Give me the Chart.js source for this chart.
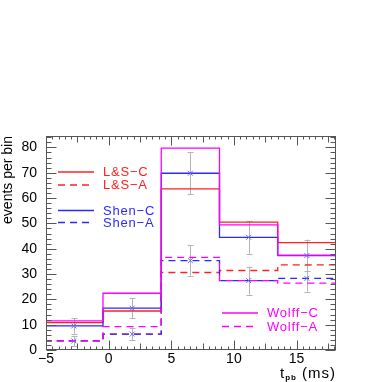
<!DOCTYPE html>
<html>
<head>
<meta charset="utf-8">
<script src="https://cdn.jsdelivr.net/npm/chart.js@4/dist/chart.umd.min.js"></script>
<style>
html,body{margin:0;padding:0;background:#fff;}
canvas{display:block;}
</style>
</head>
<body>
<canvas id="c" width="382" height="382"></canvas>
<script>
// ---- data ----
const binEdges = [-5.1, -0.45, 4.2, 8.85, 13.5, 18.15];
const lsC    = [10.8, 15.4, 63.6, 50.5, 42.4];
const lsA    = [3.6, 6.3, 30.6, 31.4, 33.6];
const shenC  = [9.5, 16.5, 69.8, 44.5, 37.3];
const shenA  = [3.6, 6.3, 35.3, 27.4, 28.3];
const wolffC = [11.5, 22.4, 79.7, 49.4, 37.5];
const wolffA = [3.6, 9.2, 36.6, 27.4, 26.4];
const shenCErr = [3.0, 4.0, 8.3, 6.5, 6.3];
const shenAErr = [2.0, 2.5, 6.0, 5.5, 5.3];
const xTickLabels = [-5, 0, 5, 10, 15];
const yTickLabels = [0, 10, 20, 30, 40, 50, 60, 70, 80];
const seriesNames = ['L&S\u2212C', 'L&S\u2212A', 'Shen\u2212C', 'Shen\u2212A', 'Wolff\u2212C', 'Wolff\u2212A'];
const xTitleMain = 't', xTitleSub = 'pb', xTitleUnit = ' (ms)';
const yTitle = 'events per bin';

const RED = '#ff2020', BLUE = '#2a2aff', MAG = '#ff00ff';
const FONT = '"Liberation Sans", Arial, Helvetica, sans-serif';
const DASH = [7, 5];

function stepPoints(vals) {
  return binEdges.map((e, i) => ({ x: e, y: vals[Math.min(i, vals.length - 1)] }));
}
const centers = binEdges.slice(0, -1).map((e, i) => (e + binEdges[i + 1]) / 2);

function histDS(label, vals, color, dashed, order) {
  return {
    label, data: stepPoints(vals), borderColor: color, borderWidth: 1.3,
    borderDash: dashed ? DASH : [], stepped: 'before', pointRadius: 0,
    fill: false, order
  };
}

const datasets = [
  histDS(seriesNames[0], lsC, RED, false, 5),
  histDS(seriesNames[1], lsA, RED, true, 5),
  histDS(seriesNames[2], shenC, BLUE, false, 4),
  histDS(seriesNames[3], shenA, BLUE, true, 4),
  histDS(seriesNames[4], wolffC, MAG, false, 3),
  histDS(seriesNames[5], wolffA, MAG, true, 3),
  {
    label: 'Shen markers', type: 'scatter',
    data: centers.map((c, i) => ({ x: c, y: shenC[i] })).concat(centers.map((c, i) => ({ x: c, y: shenA[i] }))),
    pointStyle: 'crossRot', pointRadius: 3.5, borderColor: '#6a6aff', borderWidth: 1,
    backgroundColor: '#6a6aff', showLine: false, order: 0
  }
];

const errorBars = {
  id: 'errorBars',
  beforeDatasetsDraw(chart) {
    const { ctx, scales: { x, y } } = chart;
    ctx.save();
    ctx.strokeStyle = '#b4b4b4';
    ctx.lineWidth = 1;
    const draw = (vals, errs) => {
      vals.forEach((v, i) => {
        const px = Math.round(x.getPixelForValue(centers[i])) + 0.5;
        const y1 = y.getPixelForValue(v + errs[i]);
        const y2 = y.getPixelForValue(v - errs[i]);
        ctx.beginPath();
        ctx.moveTo(px, y1); ctx.lineTo(px, y2);
        ctx.moveTo(px - 3, Math.round(y1) + 0.5); ctx.lineTo(px + 3, Math.round(y1) + 0.5);
        ctx.moveTo(px - 3, Math.round(y2) + 0.5); ctx.lineTo(px + 3, Math.round(y2) + 0.5);
        ctx.stroke();
      });
    };
    draw(shenC, shenCErr);
    draw(shenA, shenAErr);
    ctx.restore();
  }
};

const frameAndDecor = {
  id: 'frameAndDecor',
  afterDraw(chart) {
    const { ctx, chartArea: a, scales: { x, y } } = chart;
    ctx.save();
    ctx.strokeStyle = '#555';
    ctx.lineWidth = 1;
    const L = Math.round(a.left) + 0.5, R = Math.round(a.right) - 0.5;
    const T = Math.round(a.top) + 0.5, B = Math.round(a.bottom) - 0.5;
    ctx.strokeRect(L, T, R - L, B - T);
    ctx.beginPath();
    // x ticks, every 0.5
    for (let k = -10; k <= 36; k++) {
      const v = k / 2;
      if (v < x.min - 1e-6 || v > x.max + 1e-6) continue;
      const px = Math.round(x.getPixelForValue(v)) + 0.5;
      const len = (v % 5 === 0) ? 9 : ((v % 2.5 === 0) ? 6 : 3);
      ctx.moveTo(px, B); ctx.lineTo(px, B - len);
      ctx.moveTo(px, T); ctx.lineTo(px, T + len);
    }
    // y ticks, every 2
    for (let v = 0; v <= 84; v += 2) {
      const py = Math.round(y.getPixelForValue(v)) + 0.5;
      const len = (v % 10 === 0) ? 10 : 5;
      ctx.moveTo(L, py); ctx.lineTo(L + len, py);
      ctx.moveTo(R, py); ctx.lineTo(R - len, py);
    }
    ctx.stroke();

    // legend entries
    const entries = [
      { name: seriesNames[0], color: RED, dash: false, x0: 58, y0: 172 },
      { name: seriesNames[1], color: RED, dash: true, x0: 58, y0: 185 },
      { name: seriesNames[2], color: BLUE, dash: false, x0: 58, y0: 210.5 },
      { name: seriesNames[3], color: BLUE, dash: true, x0: 58, y0: 222.5 },
      { name: seriesNames[4], color: MAG, dash: false, x0: 222, y0: 313 },
      { name: seriesNames[5], color: MAG, dash: true, x0: 222, y0: 326.5 }
    ];
    ctx.font = '13px ' + FONT;
    ctx.textBaseline = 'middle';
    if ('letterSpacing' in ctx) ctx.letterSpacing = '0.8px';
    entries.forEach(e => {
      ctx.strokeStyle = e.color;
      ctx.lineWidth = 1.3;
      ctx.setLineDash(e.dash ? DASH : []);
      ctx.beginPath();
      ctx.moveTo(e.x0, e.y0); ctx.lineTo(e.x0 + 36, e.y0);
      ctx.stroke();
      ctx.setLineDash([]);
      ctx.fillStyle = e.color;
      ctx.fillText(e.name, e.x0 + 45, e.y0 + 0.5);
    });

    // x title with subscript
    ctx.fillStyle = '#000';
    ctx.textBaseline = 'alphabetic';
    if ('letterSpacing' in ctx) ctx.letterSpacing = '1px';
    let tx = 280; const ty = 378;
    ctx.font = '15px ' + FONT;
    ctx.fillText(xTitleMain, tx, ty);
    tx += ctx.measureText(xTitleMain).width;
    ctx.font = 'bold 8px ' + FONT;
    ctx.fillText(xTitleSub, tx, ty + 2);
    tx += ctx.measureText(xTitleSub).width;
    ctx.font = '15px ' + FONT;
    ctx.fillText(xTitleUnit, tx, ty);
    ctx.restore();
  }
};

new Chart(document.getElementById('c'), {
  type: 'line',
  data: { datasets },
  options: {
    responsive: false,
    animation: false,
    layout: { padding: { left: 0, right: 46, top: 136, bottom: 0 } },
    plugins: { legend: { display: false }, tooltip: { enabled: false } },
    scales: {
      x: {
        type: 'linear', min: -5, max: 18.15,
        afterBuildTicks: s => { s.ticks = xTickLabels.map(v => ({ value: v })); },
        afterFit: s => { s.height = 32; },
        grid: { display: false, drawTicks: false },
        border: { display: false },
        ticks: {
          color: '#000', font: { family: FONT, size: 14 }, padding: 1,
          maxRotation: 0, autoSkip: false,
          callback: v => String(v).replace('-', '\u2212')
        }
      },
      y: {
        type: 'linear', min: 0, max: 84.5,
        afterBuildTicks: s => { s.ticks = yTickLabels.map(v => ({ value: v })); },
        afterFit: s => { s.width = 46; },
        grid: { display: false, drawTicks: false },
        border: { display: false },
        title: {
          display: true, text: yTitle, align: 'end', color: '#000',
          font: { family: FONT, size: 14 }, padding: { top: 0, bottom: 0 }
        },
        ticks: {
          color: '#000', font: { family: FONT, size: 14 }, padding: 9, autoSkip: false
        }
      }
    }
  },
  plugins: [errorBars, frameAndDecor]
});
</script>
</body>
</html>
